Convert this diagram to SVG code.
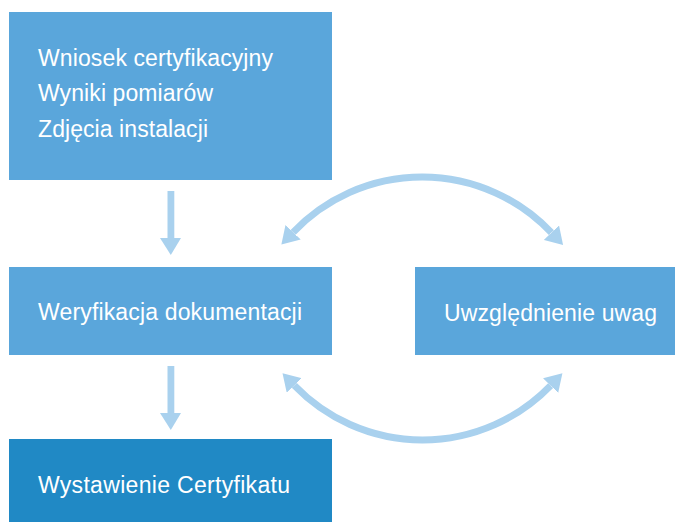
<svg xmlns="http://www.w3.org/2000/svg" width="675" height="522" viewBox="0 0 675 522">
<style>
.box{fill:#5AA6DB}
.dark{fill:#2089C5}
.t{font-family:"Liberation Sans",Arial,sans-serif;font-size:23px;fill:#ffffff}
.arc{fill:none;stroke:#A9D1EE;stroke-width:7}
.ah{fill:#A9D1EE}
</style>
<defs>
<marker id="head" markerUnits="userSpaceOnUse" viewBox="0 0 17 21" refX="0" refY="10.5" markerWidth="17" markerHeight="21" orient="auto-start-reverse">
<path d="M0,0 L17,10.5 L0,21 z" fill="#A9D1EE"/>
</marker>
</defs>
<rect width="675" height="522" fill="#ffffff"/>
<g id="n1">
<rect class="box" x="9" y="12" width="323" height="168"/>
<text class="t" x="38" y="66" textLength="235" lengthAdjust="spacing">Wniosek certyfikacyjny</text>
<text class="t" x="38" y="101" textLength="175" lengthAdjust="spacing">Wyniki pomiarów</text>
<text class="t" x="38" y="137" textLength="170" lengthAdjust="spacing">Zdjęcia instalacji</text>
</g>
<g id="n2">
<rect class="box" x="9" y="267" width="323" height="88"/>
<text class="t" x="38" y="320" textLength="264" lengthAdjust="spacing">Weryfikacja dokumentacji</text>
</g>
<g id="n3">
<rect class="box" x="415" y="267" width="260" height="88"/>
<text class="t" x="444" y="321" textLength="213" lengthAdjust="spacing">Uwzględnienie uwag</text>
</g>
<g id="n4">
<rect class="dark" x="9" y="439" width="323" height="83"/>
<text class="t" x="38" y="493" textLength="252" lengthAdjust="spacing">Wystawienie Certyfikatu</text>
</g>
<g id="connectors">
<rect class="ah" x="167.5" y="191" width="6.8" height="48"/>
<polygon class="ah" points="160,238 181,238 170.8,255"/>
<rect class="ah" x="167.5" y="366" width="6.8" height="48"/>
<polygon class="ah" points="160,413 181,413 170.8,430"/>
<path class="arc" d="M293.1,232.3 A178,178 0 0 1 551.4,232.7" marker-start="url(#head)" marker-end="url(#head)"/>
<path class="arc" d="M294.3,385.4 A178,178 0 0 0 550.6,385.6" marker-start="url(#head)" marker-end="url(#head)"/>
</g>
</svg>
